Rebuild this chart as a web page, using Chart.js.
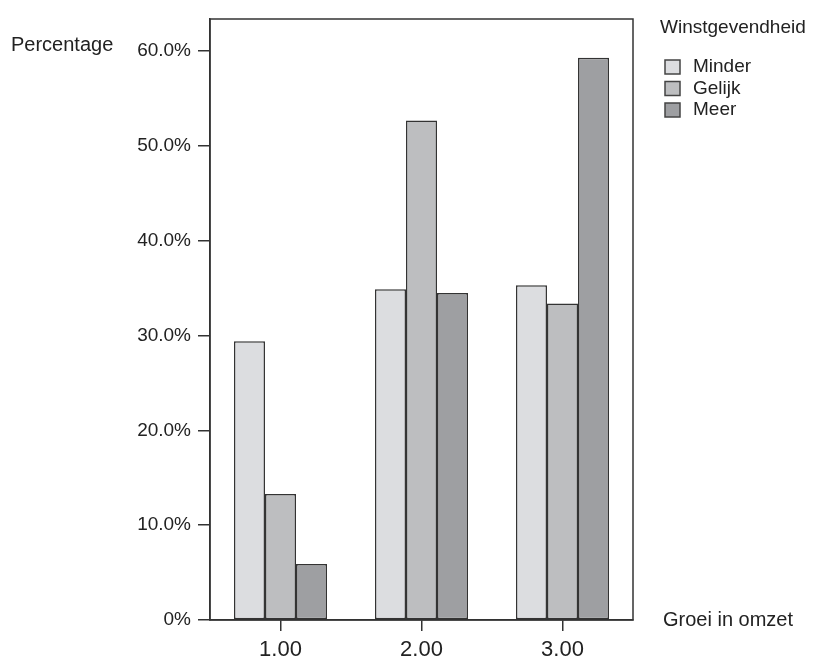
<!DOCTYPE html>
<html>
<head>
<meta charset="utf-8">
<script src="https://cdn.jsdelivr.net/npm/chart.js@4.4.1/dist/chart.umd.min.js"></script>
<style>
  html, body { margin: 0; padding: 0; background: #fff; }
  #wrap { width: 814px; height: 659px; position: relative; }
</style>
</head>
<body>
<div id="wrap"><canvas id="chart-1"></canvas></div>
<script>
const categories = ['1.00', '2.00', '3.00'];
const minder = [29.4, 34.9, 35.3];
const gelijk = [13.3, 52.7, 33.4];
const meer = [5.9, 34.5, 59.3];
const yTicks = [0, 10, 20, 30, 40, 50, 60];

const FONT = '"Liberation Sans", Arial, sans-serif';
const TEXT = '#222';
const LINE = '#333';

// frame, axis captions and legend drawn on the canvas
const extras = {
  id: 'extras',
  afterDraw(chart) {
    const { ctx, chartArea } = chart;
    ctx.save();
    ctx.strokeStyle = LINE;
    ctx.lineWidth = 1.5;
    ctx.strokeRect(chartArea.left, chartArea.top, chartArea.right - chartArea.left, chartArea.bottom - chartArea.top);

    ctx.fillStyle = TEXT;
    ctx.textBaseline = 'middle';
    ctx.textAlign = 'left';
    ctx.font = '20px ' + FONT;
    ctx.fillText('Percentage', 11, 45);
    ctx.fillText('Groei in omzet', 663, 620);
    ctx.font = '19px ' + FONT;
    ctx.fillText('Winstgevendheid', 660, 28);

    chart.data.datasets.forEach((ds, i) => {
      const y = 67 + i * 21.5;
      ctx.fillStyle = ds.backgroundColor;
      ctx.fillRect(665, y - 7, 15, 14);
      ctx.strokeStyle = '#444';
      ctx.lineWidth = 1.5;
      ctx.strokeRect(665, y - 7, 15, 14);
      ctx.fillStyle = TEXT;
      ctx.fillText(ds.label, 693, y);
    });
    ctx.restore();
  },
};

const barStyle = {
  borderColor: LINE,
  borderWidth: 1.5,
  borderSkipped: false,
};

new Chart(document.getElementById('chart-1'), {
  type: 'bar',
  data: {
    labels: categories,
    datasets: [
      { label: 'Minder', data: minder, backgroundColor: '#dcdde0', ...barStyle },
      { label: 'Gelijk', data: gelijk, backgroundColor: '#bdbec0', ...barStyle },
      { label: 'Meer', data: meer, backgroundColor: '#9e9fa2', ...barStyle },
    ],
  },
  options: {
    responsive: true,
    maintainAspectRatio: false,
    animation: false,
    layout: { padding: { left: 0, right: 181, top: 19, bottom: 0 } },
    categoryPercentage: 0.66,
    barPercentage: 1.0,
    plugins: {
      legend: { display: false },
      tooltip: { enabled: false },
    },
    scales: {
      x: {
        afterFit(scale) { scale.height = 39; },
        grid: {
          offset: false,
          drawOnChartArea: false,
          drawTicks: true,
          tickLength: 11,
          color: LINE,
          lineWidth: 1.5,
        },
        border: { display: true, color: LINE, width: 1.5 },
        ticks: { color: TEXT, font: { family: FONT, size: 22 }, padding: 6 },
      },
      y: {
        min: 0,
        max: 63.4,
        afterFit(scale) { scale.width = 210; },
        afterBuildTicks(scale) {
          scale.ticks = yTicks.map((v) => ({ value: v }));
        },
        grid: {
          drawOnChartArea: false,
          drawTicks: true,
          tickLength: 12,
          color: LINE,
          lineWidth: 1.5,
        },
        border: { display: true, color: LINE, width: 1.5 },
        ticks: {
          color: TEXT,
          font: { family: FONT, size: 19 },
          padding: 7,
          callback: (v) => (v === 0 ? '0%' : v.toFixed(1) + '%'),
        },
      },
    },
  },
  plugins: [extras],
});
</script>
</body>
</html>
